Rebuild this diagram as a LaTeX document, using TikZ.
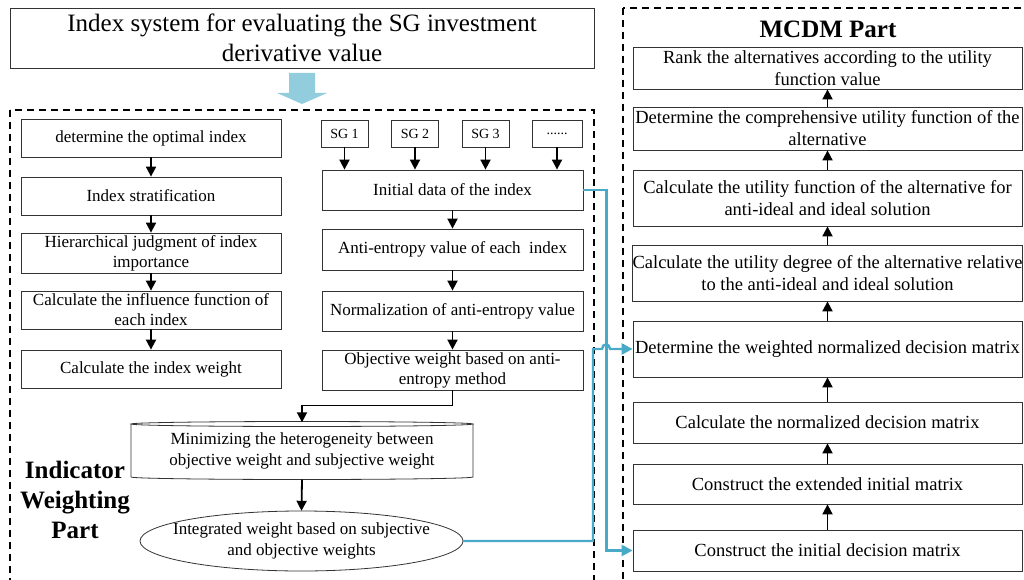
\documentclass[tikz,border=0pt]{standalone}
\usepackage{fontspec}
\setmainfont{Liberation Serif}
\usetikzlibrary{arrows.meta}
\definecolor{linkblue}{RGB}{72,170,198}
\definecolor{bigarrow}{RGB}{146,205,222}
\begin{document}
\begin{tikzpicture}[x=1pt,y=-1pt,
  box/.style={draw=black!80, line width=0.8pt, rectangle, align=center, inner sep=0pt},
  lbox/.style={box, font=\fontsize{17}{20}\selectfont, minimum width=260pt},
  rbox/.style={box, font=\fontsize{18.5}{22}\selectfont, minimum width=389pt},
  sgbox/.style={box, font=\fontsize{14}{16}\selectfont, minimum width=47pt, minimum height=27pt},
  flow/.style={line width=1.8pt, -{Triangle[length=10pt,width=10pt]}},
  link/.style={draw=linkblue, line width=2.4pt, -{Triangle[length=11pt,width=11pt]}},
  part/.style={dash pattern=on 7pt off 5pt, line width=1.1pt},
  outline/.style={line width=0.8pt, draw=black!80},
  heading/.style={font=\fontsize{25}{30}\selectfont\bfseries, align=center}]
\useasboundingbox (0,0) rectangle (1024,580);
\clip (0,0) rectangle (1024,580);

% dashed part frames
\draw[part] (10,110) rectangle (594,600);
\draw[part] (623,8) rectangle (1040,600);

% title and the wide arrow below it
\node[box, font=\fontsize{25}{30}\selectfont, minimum width=584pt, minimum height=60pt] (title) at (302,38)
  {Index system for evaluating the SG investment\\derivative value};
\fill[bigarrow] (289,73) -- (315,73) -- (315,93) -- (327,93) -- (302,104) -- (277,93) -- (289,93) -- cycle;

% subjective weighting column
\node[lbox, minimum height=38pt] (l1) at (151,138) {determine the optimal index};
\node[lbox, minimum height=38pt] (l2) at (151,196) {Index stratification};
\node[lbox, minimum height=40pt] (l3) at (151,253) {Hierarchical judgment of index\\importance};
\node[lbox, minimum height=38pt] (l4) at (151,310) {Calculate the influence function of\\each index};
\node[lbox, minimum height=38pt] (l5) at (151,369) {Calculate the index weight};
\foreach \a/\b in {l1/l2,l2/l3,l3/l4,l4/l5}
  \draw[flow] (\a.south) -- (\b.north);

% objective weighting column
\node[sgbox] (s1) at (344.5,133.5) {SG 1};
\node[sgbox] (s2) at (415,133.5) {SG 2};
\node[sgbox] (s3) at (485.5,133.5) {SG 3};
\node[sgbox, minimum width=50pt] (s4) at (557,133.5) {......};
\node[lbox, minimum width=261pt, minimum height=40pt] (m1) at (452.5,190) {Initial data of the index};
\node[lbox, minimum width=261pt, minimum height=41pt] (m2) at (452.5,249.5) {Anti-entropy value of each\ \ index};
\node[lbox, minimum width=261pt, minimum height=40pt] (m3) at (452.5,311) {Normalization of anti-entropy value};
\node[lbox, minimum width=261pt, minimum height=40pt] (m4) at (452.5,370) {Objective weight based on anti-\\entropy method};
\foreach \s in {s1,s2,s3,s4}
  \draw[flow] (\s.south) -- (\s.south |- m1.north);
\foreach \a/\b in {m1/m2,m2/m3,m3/m4}
  \draw[flow] (\a.south) -- (\b.north);

% combination step (flat cylinder) and integrated weight (ellipse)
\node[font=\fontsize{17}{21}\selectfont, align=center, minimum width=342pt, minimum height=57pt, inner sep=0pt] (cyl) at (302,451)
  {Minimizing the heterogeneity between\\objective weight and subjective weight};
\draw[outline] (302,424) ellipse [x radius=171, y radius=2.5];
\draw[outline] (131,424) -- (131,477) arc[start angle=180, end angle=0, x radius=171, y radius=2.5] -- (473,424);
\node[font=\fontsize{17}{21}\selectfont, align=center, minimum width=323pt, minimum height=60pt, inner sep=0pt] (ell) at (301.5,541)
  {Integrated weight based on subjective\\and objective weights};
\draw[outline] (ell.center) ellipse [x radius=161.5, y radius=30];
\draw[flow] (m4.south) -- ++(0,15) -| (cyl.north);
\draw[flow] (cyl.south) -- (ell.north);

\node[heading] (leftlabel) at (75,500) {Indicator\\Weighting\\Part};

% MCDM column
\node[heading] (mcdm) at (828,29) {MCDM Part};
\node[rbox, minimum height=42pt] (r1) at (827.5,68) {Rank the alternatives according to the utility\\function value};
\node[rbox, minimum height=43pt] (r2) at (827.5,128.5) {Determine the comprehensive utility function of the\\alternative};
\node[rbox, minimum height=56pt] (r3) at (827.5,198) {Calculate the utility function of the alternative for\\anti-ideal and ideal solution};
\node[rbox, minimum height=56pt] (r4) at (827.5,273) {Calculate the utility degree of the alternative relative\\to the anti-ideal and ideal solution};
\node[rbox, minimum height=56pt] (r5) at (827.5,349) {Determine the weighted normalized decision matrix};
\node[rbox, minimum height=41pt] (r6) at (827.5,422.5) {Calculate the normalized decision matrix};
\node[rbox, minimum height=40pt] (r7) at (827.5,484) {Construct the extended initial matrix};
\node[rbox, minimum height=41pt] (r8) at (827.5,550.5) {Construct the initial decision matrix};
\foreach \a/\b in {r8/r7,r7/r6,r6/r5,r5/r4,r4/r3,r3/r2,r2/r1}
  \draw[flow] (\a.north) -- (\b.south);

% links from the weighting part into the MCDM part
\draw[link] (m1.east) -- ++(23,0) |- (r8.west);
\draw[link] (ell.east) -- (593,541) -- (593,349) -- (602,349)
  .. controls (602,343) and (610,343) .. (610,349) -- (r5.west);
\end{tikzpicture}
\end{document}
